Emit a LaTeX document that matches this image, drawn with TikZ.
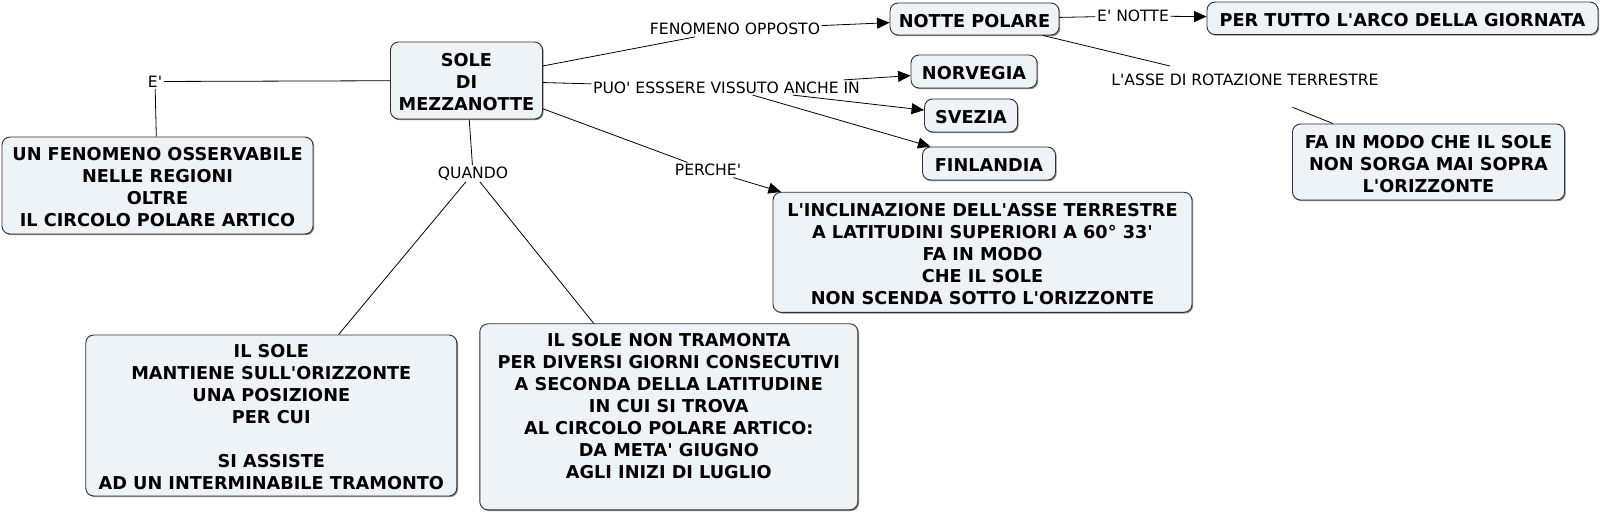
\documentclass[tikz,border=0pt]{standalone}
\usepackage{fontspec}
\setmainfont{DejaVu Sans}[Ligatures=TeXOff]
\usetikzlibrary{arrows.meta,shadows}
\definecolor{boxfill}{HTML}{EDF3F6}
\definecolor{boxline}{HTML}{303030}
\newcommand{\bx}[1]{\raisebox{-4bp}[\height][\depth]{\begin{tabular}{@{}c@{}}#1\end{tabular}}}
\tikzset{
  box/.style={draw=boxline, line width=0.9bp, fill=boxfill, rounded corners=8bp,
    font=\bfseries\fontsize{17.7bp}{22bp}\selectfont, inner sep=0pt, text=black,
    drop shadow={shadow xshift=1.2bp, shadow yshift=-1.2bp, fill=black!45, opacity=1}},
  lbl/.style={font=\fontsize{15.6bp}{18bp}\selectfont, inner sep=1.5bp, text=black},
  link/.style={line width=0.8bp, draw=black},
  arr/.style={link, -{Triangle[length=12.5bp,width=11bp]}},
}
\begin{document}
\begin{tikzpicture}[x=1bp,y=-1bp]
\path[fill=white,use as bounding box] (0,0) rectangle (1600,514);

% boxes
\node[box, minimum width=152bp, minimum height=77bp] (sole) at (466.5,80.5) {\bx{SOLE\\DI\\MEZZANOTTE}};
\node[box, minimum width=311bp, minimum height=97bp] (fen) at (157.5,185.5) {\bx{UN FENOMENO OSSERVABILE\\NELLE REGIONI\\OLTRE\\IL CIRCOLO POLARE ARTICO}};
\node[box, minimum width=169bp, minimum height=32bp] (notte) at (974.5,19) {\bx{NOTTE POLARE}};
\node[box, minimum width=391bp, minimum height=32.5bp] (tutto) at (1402.5,18.3) {\bx{PER TUTTO L'ARCO DELLA GIORNATA}};
\node[box, minimum width=126bp, minimum height=33bp] (norv) at (974,71.5) {\bx{NORVEGIA}};
\node[box, minimum width=93bp, minimum height=33bp] (svez) at (971,115.5) {\bx{SVEZIA}};
\node[box, minimum width=133bp, minimum height=33bp] (finl) at (989,163.5) {\bx{FINLANDIA}};
\node[box, minimum width=272bp, minimum height=76bp] (fa) at (1428.5,162) {\bx{FA IN MODO CHE IL SOLE\\NON SORGA MAI SOPRA\\L'ORIZZONTE}};
\node[box, minimum width=419bp, minimum height=120bp] (incl) at (982.5,252.3) {\bx{L'INCLINAZIONE DELL'ASSE TERRESTRE\\A LATITUDINI SUPERIORI A 60° 33'\\FA IN MODO\\CHE IL SOLE\\NON SCENDA SOTTO L'ORIZZONTE}};
\node[box, minimum width=371bp, minimum height=161bp] (mant) at (271.3,415.5) {\bx{IL SOLE\\MANTIENE SULL'ORIZZONTE\\UNA POSIZIONE\\PER CUI\\[22bp]SI ASSISTE\\AD UN INTERMINABILE TRAMONTO}};
\node[box, minimum width=378bp, minimum height=186bp] (tram) at (668.8,416.8) {\bx{IL SOLE NON TRAMONTA\\PER DIVERSI GIORNI CONSECUTIVI\\A SECONDA DELLA LATITUDINE\\IN CUI SI TROVA\\AL CIRCOLO POLARE ARTICO:\\DA META' GIUGNO\\AGLI INIZI DI LUGLIO\\[25bp]}};

% labels
\node[lbl] (lE) at (155,81.5) {E'};
\node[lbl] (lFO) at (735,29.3) {FENOMENO OPPOSTO};
\node[lbl] (lEN) at (1133,16) {E' NOTTE};
\node[lbl] (lPV) at (726.5,87.5) {PUO' ESSSERE VISSUTO ANCHE IN};
\node[lbl] (lA) at (1245,80) {L'ASSE DI ROTAZIONE TERRESTRE};
\node[lbl] (lQ) at (473,173.3) {QUANDO};
\node[lbl] (lP) at (708,170) {PERCHE'};
\coordinate (c1) at (1170,66);
\coordinate (c2) at (1292.5,107.3);

% connectors
\draw[link] (sole) -- (lE);
\draw[link] (lE) -- (fen);
\draw[link] (sole) -- (lFO);
\draw[arr] (lFO) -- (notte);
\draw[link] (sole) -- (lPV);
\draw[arr] (lPV) -- (norv);
\draw[arr] (lPV) -- (svez);
\draw[arr] (lPV) -- (finl);
\draw[link] (sole) -- (lP);
\draw[arr] (lP) -- (incl);
\draw[link] (sole) -- (lQ);
\draw[link] (lQ) -- (mant);
\draw[link] (lQ) -- (tram);
\draw[link] (notte) -- (lEN);
\draw[arr] (lEN) -- (tutto);
\draw[link] (notte) -- (c1);
\draw[link] (c2) -- (fa);
\end{tikzpicture}
\end{document}
